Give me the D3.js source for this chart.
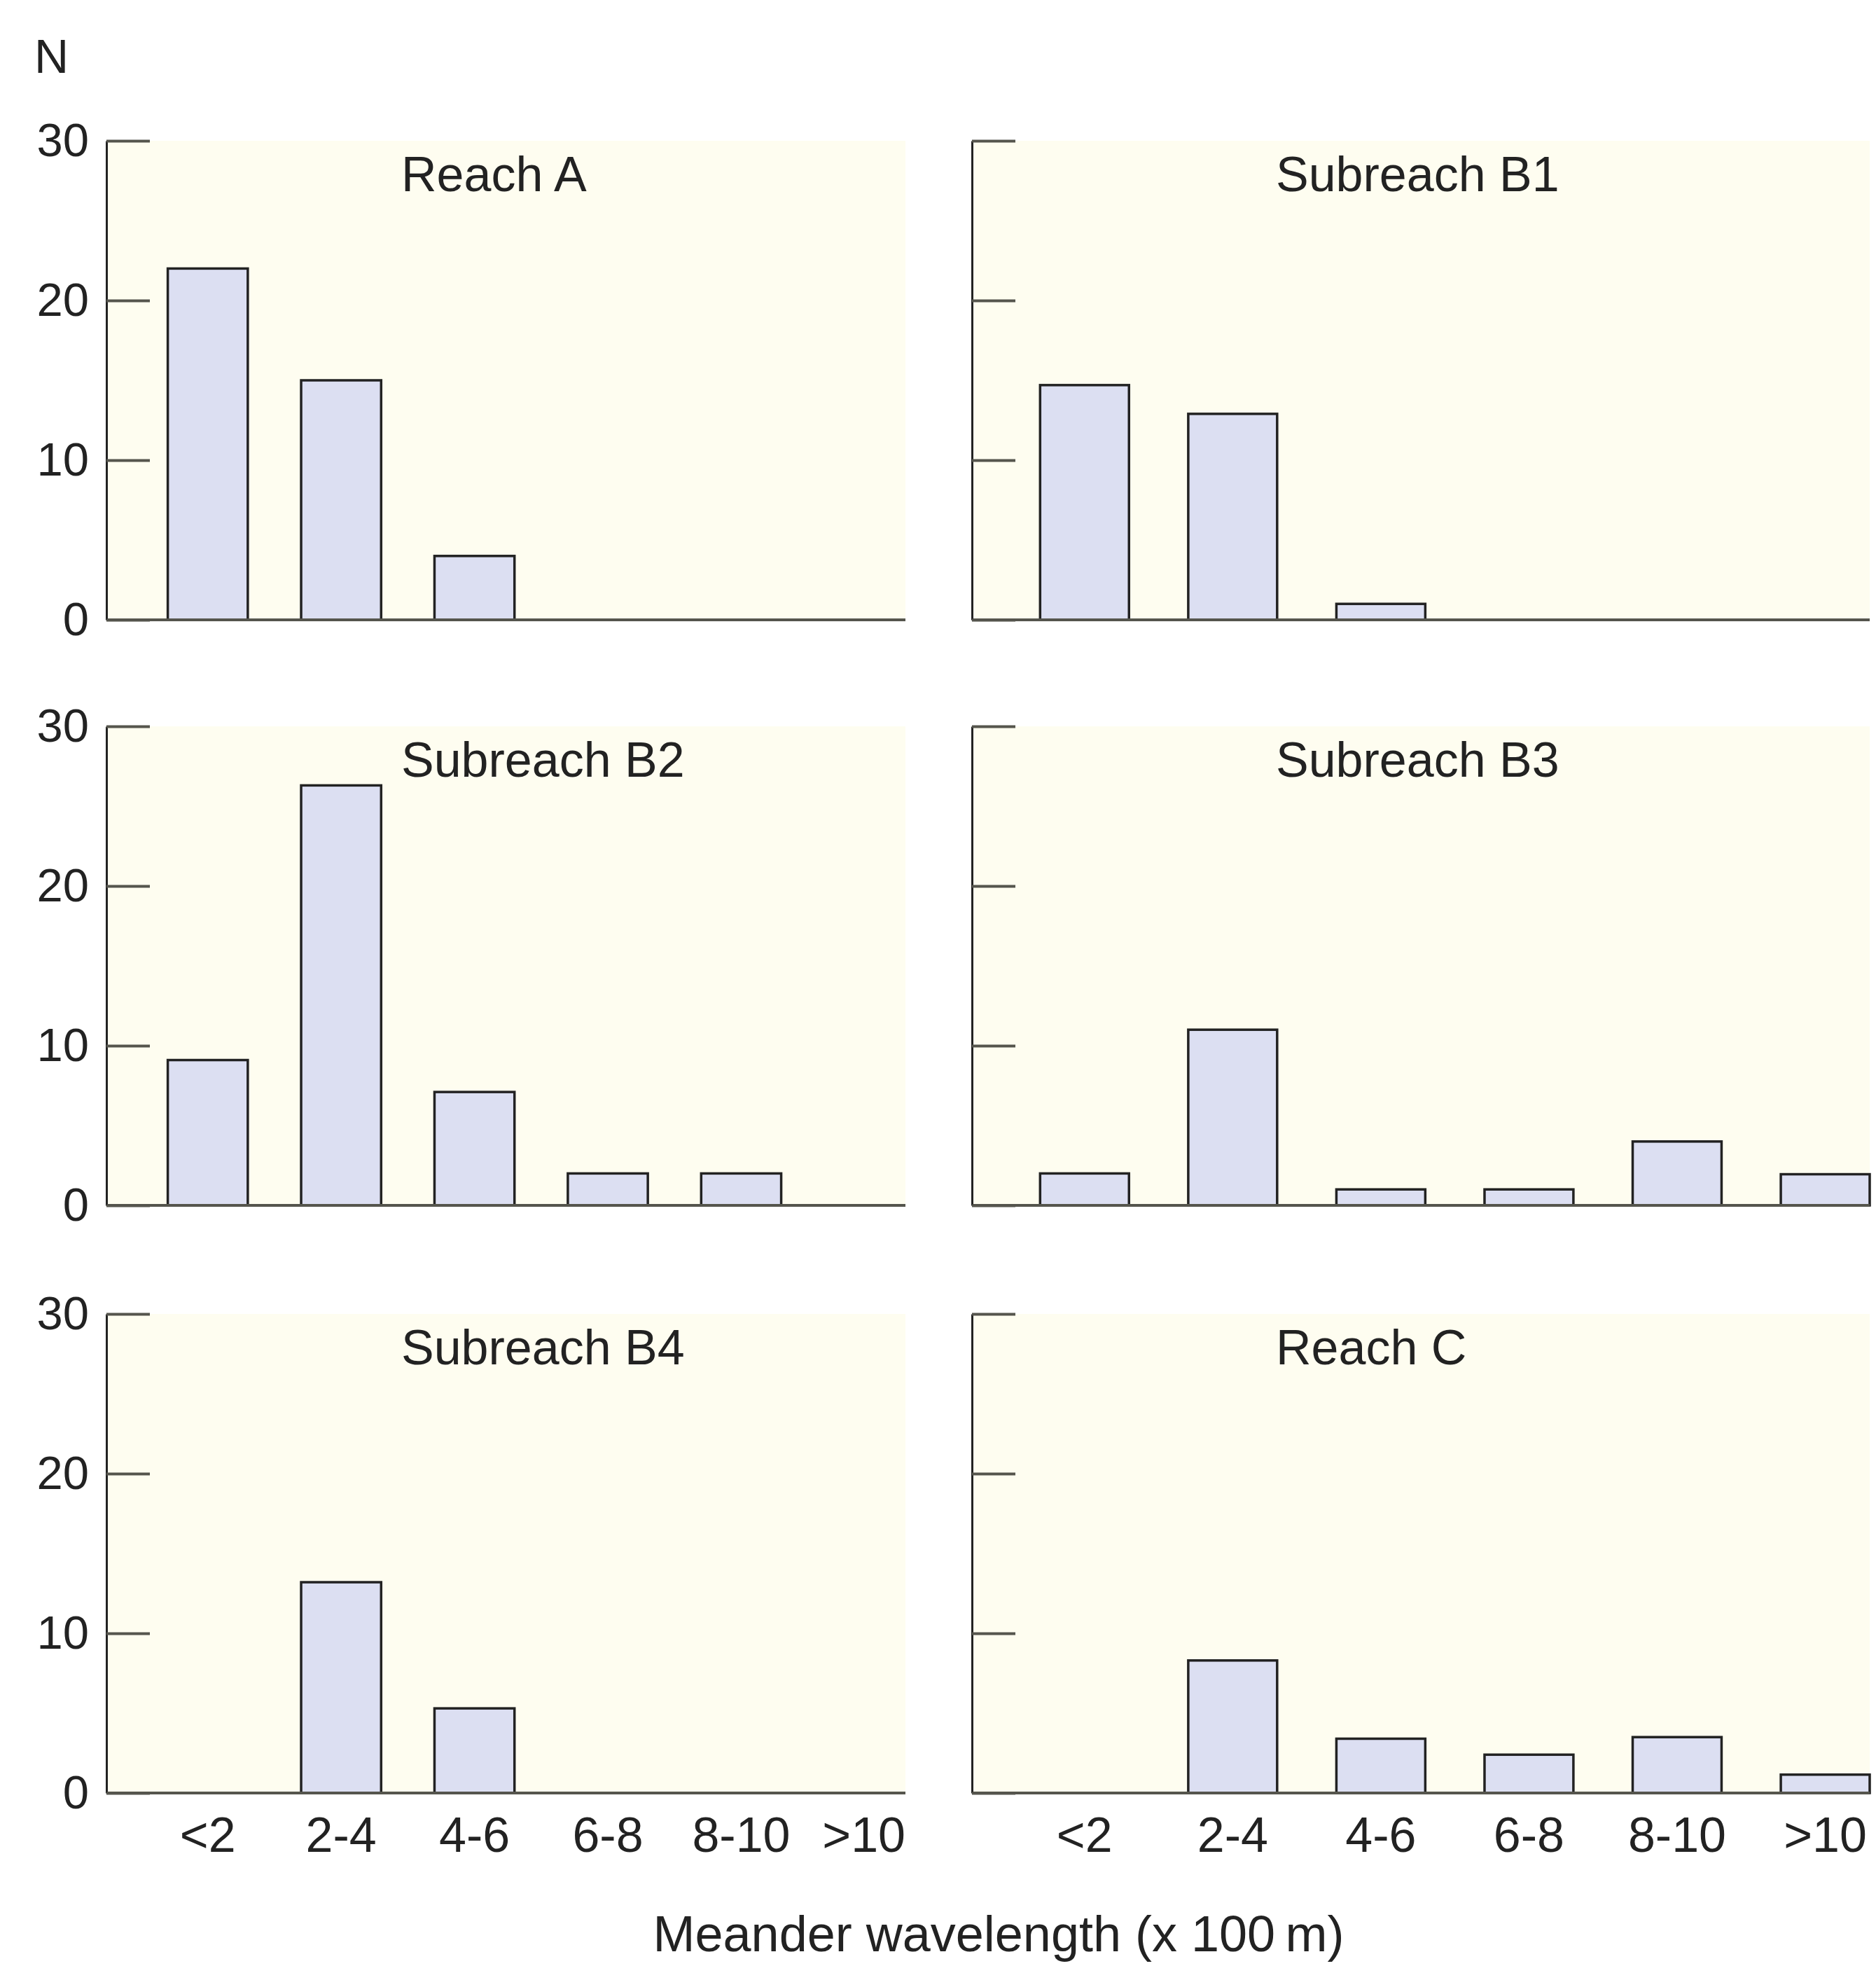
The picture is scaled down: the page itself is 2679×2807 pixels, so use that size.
<!DOCTYPE html>
<html>
<head>
<meta charset="utf-8">
<script src="https://cdn.jsdelivr.net/npm/d3@7"></script>
<style>
  body { margin: 0; background: #fff; }
  svg { display: block; }
</style>
</head>
<body>
<svg id="chart" width="2679" height="2807"></svg>
<script>
const categories = ['<2', '2-4', '4-6', '6-8', '8-10', '>10']
const yTicks = [0, 10, 20, 30]
const panelTitles = ['Reach A', 'Subreach B1', 'Subreach B2', 'Subreach B3', 'Subreach B4', 'Reach C']

const reachA = [22, 15, 4, 0, 0, 0]
const subreachB1 = [14.7, 12.9, 1, 0, 0, 0]
const subreachB2 = [9.1, 26.3, 7.1, 2, 2, 0]
const subreachB3 = [2, 11, 1, 1, 4, 1.95]
const subreachB4 = [0, 13.2, 5.3, 0, 0, 0]
const reachC = [0, 8.3, 3.4, 2.4, 3.5, 1.15]
const panelValues = [reachA, subreachB1, subreachB2, subreachB3, subreachB4, reachC]

const yLabel = 'N'
const xLabel = 'Meander wavelength (x 100\u2009m)'

const FONT = "'Liberation Sans', Arial, Helvetica, sans-serif"

drawChart()


function drawChart () {
  const dim = setDimensions()
  const svg = d3.select('#chart')
  panelTitles.forEach((title, i) => drawPanel(svg, dim, i))
  drawLabels(svg)
}


function setDimensions () {
  return {
    colX: [152, 1388],
    colWidth: [1141, 1282], // length of the drawn baseline
    bandWidth: [1154, 1282], // range the categories are spread over
    rowY: [201, 1037, 1876],
    rowHeight: 684
  }
}


function setScales (dim, col) {
  const xScale = d3.scaleBand()
    .domain(categories)
    .range([0, dim.bandWidth[col]])
    .paddingInner(0.4)
    .paddingOuter(0.23)
    .align(1)
  const yScale = d3.scaleLinear()
    .domain([0, 30])
    .range([dim.rowHeight, 0])
  return { xScale, yScale }
}


function drawPanel (svg, dim, i) {
  const col = i % 2
  const row = Math.floor(i / 2)
  const w = dim.colWidth[col]
  const h = dim.rowHeight
  const { xScale, yScale } = setScales(dim, col)

  const g = svg.append('g')
    .attr('transform', `translate(${dim.colX[col]},${dim.rowY[row]})`)

  g.append('rect') // cream plot background
    .attr('width', w)
    .attr('height', h)
    .attr('fill', '#fefdf0')

  g.append('text')
    .attr('x', col ? 434 : 421)
    .attr('y', 72)
    .attr('font-family', FONT)
    .attr('font-size', 70)
    .attr('fill', '#222')
    .text(panelTitles[i])

  drawBars(g, panelValues[i], xScale, yScale, h)

  g.append('line') // baseline
    .attr('x1', 0)
    .attr('x2', w)
    .attr('y1', h)
    .attr('y2', h)
    .attr('stroke', '#55554d')
    .attr('stroke-width', 4)

  drawYAxis(g, yScale, col)
  if (row === 2) drawXAxis(g, xScale, w, h)
}


function drawBars (g, values, xScale, yScale, h) {
  const data = values.map((v, j) => ({ cat: categories[j], v })).filter((d) => d.v > 0)
  g.selectAll('.bar')
    .data(data)
    .join('rect')
      .attr('class', 'bar')
      .attr('x', (d) => xScale(d.cat))
      .attr('y', (d) => yScale(d.v))
      .attr('width', xScale.bandwidth())
      .attr('height', (d) => h - yScale(d.v))
      .attr('fill', '#dcdff2')
      .attr('stroke', '#222')
      .attr('stroke-width', 3.5)
}


function drawYAxis (g, yScale, col) {
  const axis = g.append('g')
    .call(d3.axisLeft(yScale)
      .tickValues(yTicks)
      .tickSize(-62)
      .tickSizeOuter(0)
      .tickPadding(25)
      .tickFormat(col ? () => '' : d3.format('d'))
    )
    .attr('font-family', FONT)
    .attr('font-size', 67)

  axis.select('.domain').attr('stroke', '#222').attr('stroke-width', 3)
  axis.selectAll('.tick line').attr('stroke', '#55554d').attr('stroke-width', 4)
  axis.selectAll('.tick text').attr('fill', '#222')
}


function drawXAxis (g, xScale, w, h) {
  const axis = g.append('g')
    .attr('transform', `translate(0,${h})`)
    .call(d3.axisBottom(xScale).tickSize(0))
    .attr('font-family', FONT)
    .attr('font-size', 70)

  axis.select('.domain').remove()
  axis.selectAll('.tick text')
    .attr('y', 84)
    .attr('dy', 0)
    .attr('fill', '#222')
    .each(function (d) { // keep the last label inside the baseline
      const half = this.getComputedTextLength() / 2
      const cx = xScale(d) + xScale.bandwidth() / 2
      d3.select(this).attr('x', Math.min(0, w - half - cx))
    })
}


function drawLabels (svg) {
  svg.append('text')
    .attr('x', 49)
    .attr('y', 104)
    .attr('font-family', FONT)
    .attr('font-size', 68)
    .attr('fill', '#222')
    .text(yLabel)

  svg.append('text')
    .attr('x', 1426)
    .attr('y', 2786)
    .attr('text-anchor', 'middle')
    .attr('font-family', FONT)
    .attr('font-size', 72)
    .attr('fill', '#222')
    .text(xLabel)
}
</script>
</body>
</html>
